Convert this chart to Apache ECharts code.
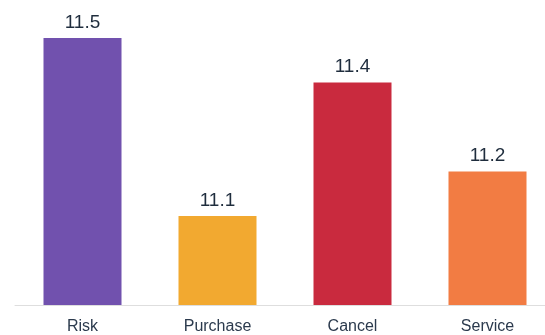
<!DOCTYPE html>
<html>
<head>
<meta charset="utf-8">
<script src="https://cdn.jsdelivr.net/npm/echarts@6/dist/echarts.min.js"></script>
<style>
  html, body { margin: 0; padding: 0; background: #fff; overflow: hidden; }
  /* the plot runs slightly past the right edge of the window */
  #chart { width: 555px; height: 335px; }
</style>
</head>
<body>
<div id="chart"></div>
<script>
const categories = ['Risk', 'Purchase', 'Cancel', 'Service'];
const values = [11.5, 11.1, 11.4, 11.2];
const barColors = ['#7151ae', '#f2a930', '#c92a3e', '#f27c43'];

const chart = echarts.init(document.getElementById('chart'), null, { renderer: 'canvas' });
chart.setOption({
  animation: false,
  grid: { left: 15, top: 38, right: 0, bottom: 30, containLabel: false },
  xAxis: {
    type: 'category',
    data: categories,
    axisLine: { lineStyle: { color: '#dedede', width: 1 } },
    axisTick: { show: false },
    axisLabel: {
      color: '#2b3a4d',
      fontFamily: 'Liberation Sans, Arial, sans-serif',
      fontSize: 16,
      margin: 14
    }
  },
  yAxis: {
    type: 'value',
    min: 10.9,
    max: 11.5,
    show: false,
    splitLine: { show: false }
  },
  series: [{
    type: 'bar',
    barWidth: 78,
    data: values.map((v, i) => ({ value: v, itemStyle: { color: barColors[i] } })),
    label: {
      show: true,
      position: 'top',
      distance: 6,
      color: '#1f2d3d',
      fontFamily: 'Liberation Sans, Arial, sans-serif',
      fontSize: 19,
      formatter: p => p.value.toFixed(1)
    }
  }]
});
</script>
</body>
</html>
